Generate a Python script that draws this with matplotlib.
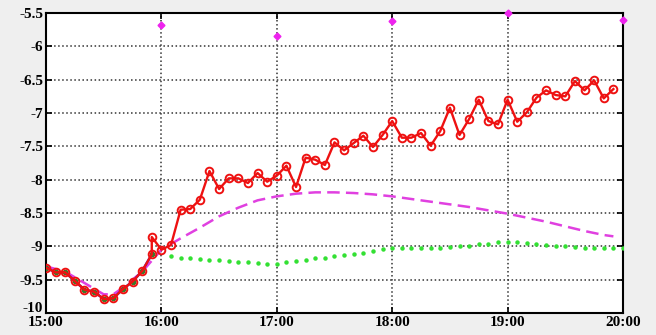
'''
recreate the time series chart (measured vs model), 15:00 - 20:00
'''
import numpy as np
import matplotlib
matplotlib.use('Agg')
import matplotlib.pyplot as plt
import matplotlib.transforms as mtransforms

# minutes after 15:00
red_minutes = [0, 5, 10, 15, 20, 25, 30, 35, 40, 45, 50, 55, 55,
               60, 65, 70, 75, 80, 85, 90, 95, 100, 105, 110, 115,
               120, 125, 130, 135, 140, 145, 150, 155, 160, 165, 170, 175,
               180, 185, 190, 195, 200, 205, 210, 215, 220, 225, 230, 235,
               240, 245, 250, 255, 260, 265, 270, 275, 280, 285, 290, 295]
red_values = [-9.32, -9.39, -9.39, -9.52, -9.65, -9.68, -9.79, -9.78, -9.64, -9.53, -9.37, -9.12, -8.86,
              -9.05, -8.98, -8.45, -8.44, -8.30, -7.87, -8.14, -7.98, -7.98, -8.05, -7.90, -8.03,
              -7.94, -7.79, -8.11, -7.67, -7.70, -7.78, -7.44, -7.56, -7.45, -7.34, -7.51, -7.33,
              -7.12, -7.37, -7.37, -7.30, -7.49, -7.27, -6.92, -7.33, -7.09, -6.80, -7.12, -7.17,
              -6.80, -7.13, -6.99, -6.77, -6.66, -6.73, -6.75, -6.52, -6.66, -6.51, -6.78, -6.64]

# fitted part (first hour)
blue_minutes = [0, 5, 10, 15, 20, 25, 30, 35, 40, 45, 50, 55]
blue_values = [-9.32, -9.39, -9.39, -9.52, -9.65, -9.68, -9.79, -9.78, -9.64, -9.53, -9.37, -9.12]

magenta_minutes = [0, 10, 20, 30, 35, 40, 50, 60, 70, 80, 90, 100, 110, 120, 130, 140, 150,
                   160, 170, 180, 190, 200, 210, 220, 230, 240, 250, 260, 270, 280, 290, 295]
magenta_values = [-9.30, -9.38, -9.55, -9.72, -9.72, -9.62, -9.38, -9.05, -8.88, -8.72, -8.55,
                  -8.42, -8.31, -8.25, -8.21, -8.19, -8.19, -8.20, -8.22, -8.25, -8.29, -8.33,
                  -8.37, -8.41, -8.46, -8.51, -8.57, -8.63, -8.70, -8.77, -8.83, -8.85]

green_minutes = [65, 70, 75, 80, 85, 90, 95, 100, 105, 110, 115, 120, 125, 130, 135, 140, 145,
                 150, 155, 160, 165, 170, 175, 180, 185, 190, 195, 200, 205, 210, 215, 220, 225,
                 230, 235, 240, 245, 250, 255, 260, 265, 270, 275, 280, 285, 290, 295, 300]
green_values = [-9.15, -9.17, -9.18, -9.19, -9.20, -9.21, -9.22, -9.23, -9.24, -9.25, -9.27, -9.26,
                -9.24, -9.22, -9.20, -9.18, -9.17, -9.15, -9.13, -9.12, -9.10, -9.07, -9.04, -9.03,
                -9.03, -9.03, -9.02, -9.02, -9.02, -9.01, -9.00, -8.99, -8.97, -8.96, -8.94, -8.93,
                -8.94, -8.95, -8.96, -8.98, -8.99, -9.00, -9.01, -9.02, -9.02, -9.02, -9.02, -9.02]

diamond_minutes = [60, 120, 180, 240, 300]
diamond_values = [-5.68, -5.84, -5.62, -5.50, -5.60]

tick_minutes = [0, 60, 120, 180, 240, 300]
tick_labels = ['15:00', '16:00', '17:00', '18:00', '19:00', '20:00']
y_ticks = [-10, -9.5, -9, -8.5, -8, -7.5, -7, -6.5, -6, -5.5]
y_labels = ['-10', '-9.5', '-9', '-8.5', '-8', '-7.5', '-7', '-6.5', '-6', '-5.5']

plt.rcParams['font.family'] = ['Liberation Serif', 'DejaVu Serif']

fig = plt.figure(figsize=(6.56, 3.35), dpi=100, facecolor='#efefef')
ax = fig.add_axes([0.0701, 0.0657, 0.8796, 0.8953])
ax.set_facecolor('white')

ax.plot(magenta_minutes, magenta_values, color='#e040e0', lw=1.8, ls=(0, (5, 2.5)), zorder=3)
ax.plot(green_minutes, green_values, ls='none', marker='o', ms=2.2, color='#33e033',
        mec='#33e033', zorder=3)
ax.plot(blue_minutes, blue_values, color='#2a2ae0', lw=1.8, marker='o', ms=3,
        mfc='#3a7a2a', mec='#3a7a2a', zorder=4)
ax.plot(red_minutes, red_values, color='#ee1111', lw=1.7, marker='o', ms=5.5,
        mfc='none', mec='#ee1111', mew=1.4, zorder=5)
ax.plot(diamond_minutes, diamond_values, ls='none', marker='D', ms=3.5, color='#ee22ee',
        clip_on=False, zorder=6)

ax.set_xlim(0, 300)
ax.set_ylim(-10, -5.5)
ax.set_xticks(tick_minutes)
ax.set_xticklabels(tick_labels, fontsize=11, fontweight='bold')
ax.set_yticks(y_ticks)
ax.set_yticklabels(y_labels, fontsize=11, fontweight='bold')
ax.tick_params(direction='in', length=4, width=1.2, top=True, right=True, pad=2)
ax.grid(True, color='#333333', ls=':', lw=1.1)
for spine in ax.spines.values():
    spine.set_linewidth(1.5)

# lift the -10 label a little so it clears 15:00, as in the original
lift = mtransforms.ScaledTranslation(0, 4 / 72, fig.dpi_scale_trans)
ylab = ax.get_yticklabels()[0]
ylab.set_transform(ylab.get_transform() + lift)

plt.savefig('out.png', dpi=100, facecolor=fig.get_facecolor())
